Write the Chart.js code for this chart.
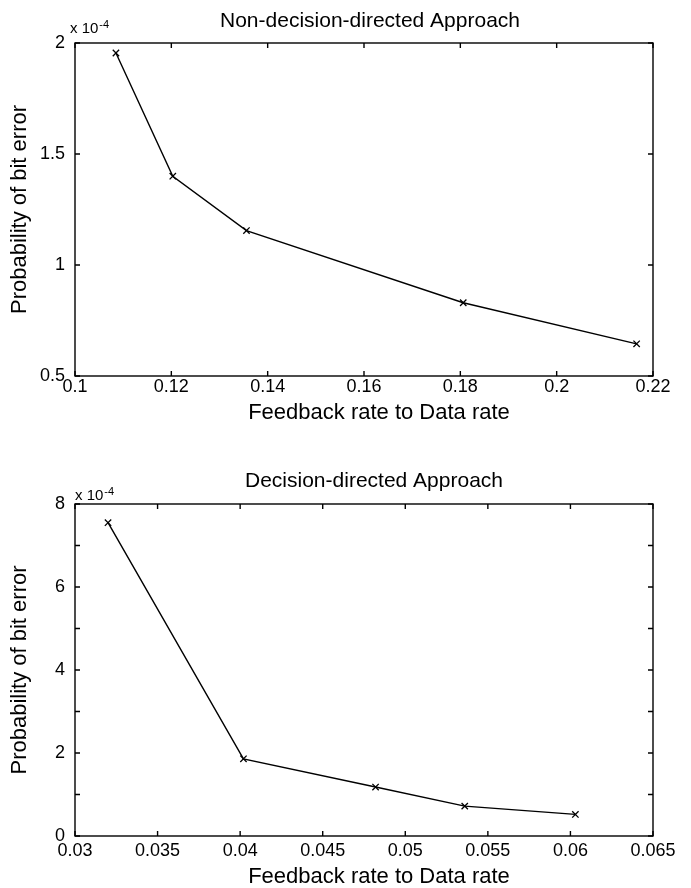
<!DOCTYPE html>
<html>
<head>
<meta charset="utf-8">
<script src="https://cdn.jsdelivr.net/npm/chart.js@4.4.1/dist/chart.umd.min.js"></script>
<style>
  html, body { margin: 0; padding: 0; background: #fff; }
  canvas { position: absolute; left: 0; }
  #ndChart { top: 0; }
  #ddChart { top: 444px; }
</style>
</head>
<body>
<canvas id="ndChart" width="691" height="444"></canvas>
<canvas id="ddChart" width="691" height="444"></canvas>
<script>
// Non-decision-directed approach, probability in units of 1e-4
const ndRate = [0.1085, 0.1203, 0.1356, 0.1806, 0.2166];
const ndError = [1.955, 1.40, 1.155, 0.83, 0.645];
const ndXTicks = [0.1, 0.12, 0.14, 0.16, 0.18, 0.2, 0.22];
const ndYTicks = [0.5, 1, 1.5, 2];
const ndYLabels = ['0.5', '1', '1.5', '2'];

// Decision-directed approach, probability in units of 1e-4
const ddRate = [0.032, 0.0402, 0.0482, 0.0536, 0.0603];
const ddError = [7.55, 1.86, 1.18, 0.72, 0.52];
const ddXTicks = [0.03, 0.035, 0.04, 0.045, 0.05, 0.055, 0.06, 0.065];
const ddYTicks = [0, 1, 2, 3, 4, 5, 6, 7, 8];
const ddYLabels = ['0', '', '2', '', '4', '', '6', '', '8'];

const FONT = "'Liberation Sans', Arial, Helvetica, sans-serif";

// box around the plot, inward ticks on all four sides, and the figure texts
const matlabFrame = {
    id: 'matlabFrame',
    afterDraw(chart, args, opts) {
        const { ctx, chartArea: a, scales: { x, y } } = chart;
        const len = 5;
        ctx.save();
        ctx.strokeStyle = '#000';
        ctx.lineWidth = 1.4;
        ctx.strokeRect(a.left, a.top, a.right - a.left, a.bottom - a.top);
        ctx.beginPath();
        x.ticks.forEach(t => {
            const px = x.getPixelForValue(t.value);
            ctx.moveTo(px, a.bottom); ctx.lineTo(px, a.bottom - len);
            ctx.moveTo(px, a.top); ctx.lineTo(px, a.top + len);
        });
        y.ticks.forEach(t => {
            const py = y.getPixelForValue(t.value);
            ctx.moveTo(a.left, py); ctx.lineTo(a.left + len, py);
            ctx.moveTo(a.right, py); ctx.lineTo(a.right - len, py);
        });
        ctx.stroke();

        ctx.fillStyle = '#000';
        ctx.textAlign = 'center';
        ctx.textBaseline = 'alphabetic';
        ctx.font = '21px ' + FONT;
        ctx.fillText(opts.title, opts.titleX, opts.titleY);

        ctx.font = '22px ' + FONT;
        ctx.textBaseline = 'middle';
        ctx.fillText(opts.xLabel, opts.xLabelX, opts.xLabelY);

        ctx.save();
        ctx.translate(opts.yLabelX, (a.top + a.bottom) / 2);
        ctx.rotate(-Math.PI / 2);
        ctx.fillText(opts.yLabel, 0, 0);
        ctx.restore();

        // "x 10^-4" multiplier above the y axis
        ctx.textAlign = 'left';
        ctx.textBaseline = 'alphabetic';
        ctx.font = '15px ' + FONT;
        ctx.fillText('x 10', opts.expX, opts.expY);
        const w = ctx.measureText('x 10').width;
        ctx.font = '11px ' + FONT;
        ctx.fillText('-4', opts.expX + w + 1, opts.expY - 5);
        ctx.restore();
    }
};

function makeChart(id, cfg) {
    const ctx = document.getElementById(id).getContext('2d');
    return new Chart(ctx, {
        type: 'line',
        data: {
            datasets: [{
                data: cfg.xs.map((v, i) => ({ x: v, y: cfg.ys[i] })),
                borderColor: '#000',
                borderWidth: 1.4,
                pointStyle: 'crossRot',
                pointRadius: 4.5,
                pointBorderWidth: 1.3,
                pointBorderColor: '#000',
                fill: false,
                tension: 0
            }]
        },
        options: {
            responsive: false,
            animation: false,
            devicePixelRatio: 1,
            layout: { padding: { top: cfg.top, right: 38, left: 0, bottom: 0 } },
            scales: {
                x: {
                    type: 'linear',
                    min: cfg.xTicks[0],
                    max: cfg.xTicks[cfg.xTicks.length - 1],
                    afterBuildTicks: s => { s.ticks = cfg.xTicks.map(v => ({ value: v })); },
                    afterFit: s => { s.height = cfg.xAxisHeight; },
                    grid: { display: false, drawTicks: false },
                    border: { display: false },
                    ticks: {
                        autoSkip: false,
                        maxRotation: 0,
                        padding: cfg.xPad,
                        color: '#000',
                        font: { family: FONT, size: 18 },
                        callback: v => String(v)
                    }
                },
                y: {
                    type: 'linear',
                    min: cfg.yTicks[0],
                    max: cfg.yTicks[cfg.yTicks.length - 1],
                    afterBuildTicks: s => { s.ticks = cfg.yTicks.map(v => ({ value: v })); },
                    afterFit: s => { s.width = 75; },
                    grid: { display: false, drawTicks: false },
                    border: { display: false },
                    ticks: {
                        autoSkip: false,
                        padding: 10,
                        color: '#000',
                        font: { family: FONT, size: 18 },
                        callback: (v, i) => cfg.yLabels[i]
                    }
                }
            },
            plugins: {
                legend: { display: false },
                tooltip: { enabled: false },
                matlabFrame: cfg.text
            }
        },
        plugins: [matlabFrame]
    });
}

makeChart('ndChart', {
    xs: ndRate, ys: ndError,
    xTicks: ndXTicks, yTicks: ndYTicks, yLabels: ndYLabels,
    top: 43, xAxisHeight: 68, xPad: 0,
    text: {
        title: 'Non-decision-directed Approach', titleX: 370, titleY: 27,
        xLabel: 'Feedback rate to Data rate', xLabelX: 379, xLabelY: 413,
        yLabel: 'Probability of bit error', yLabelX: 20,
        expX: 70, expY: 33
    }
});

makeChart('ddChart', {
    xs: ddRate, ys: ddError,
    xTicks: ddXTicks, yTicks: ddYTicks, yLabels: ddYLabels,
    top: 60, xAxisHeight: 52, xPad: 4,
    text: {
        title: 'Decision-directed Approach', titleX: 374, titleY: 43,
        xLabel: 'Feedback rate to Data rate', xLabelX: 379, xLabelY: 433,
        yLabel: 'Probability of bit error', yLabelX: 20,
        expX: 75, expY: 56
    }
});
</script>
</body>
</html>
